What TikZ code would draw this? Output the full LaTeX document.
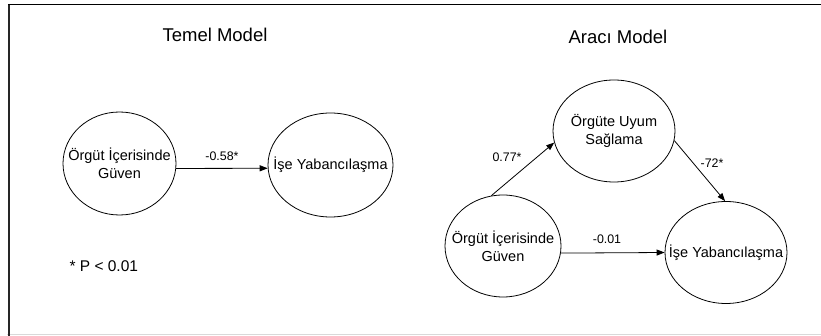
\documentclass[tikz,border=0pt]{standalone}
\usepackage{fontspec}
\setmainfont{Liberation Sans}
\usetikzlibrary{shapes.geometric,arrows.meta}

\begin{document}
\begin{tikzpicture}[x=1pt, y=-1pt,
    degisken/.style={draw, ellipse, line width=0.8pt, inner xsep=-45pt, inner ysep=-15pt,
      align=center, font=\fontsize{14.5}{18}\selectfont},
    baslik/.style={font=\fontsize{18.5}{22}\selectfont, anchor=base},
    katsayi/.style={font=\fontsize{12.4}{15}\selectfont},
    yol/.style={line width=0.8pt, -{Triangle[length=8pt,width=6pt]}}]
    \useasboundingbox (0,0) rectangle (821,336);
    % cerceve
    \draw[black!15, line width=1pt] (7,334) -- (821,334);
    \draw[black!85, line width=2pt] (9,4) -- (9,336);
    \draw[line width=1pt] (8,4.5) -- (821,4.5);
    % temel model
    \node[baslik] (t1) at (215,42) {Temel Model};
    \node[degisken, minimum width=113pt, minimum height=103pt] (g1) at (119.5,163.5) {Örgüt İçerisinde\\Güven};
    \node[degisken, minimum width=125pt, minimum height=104pt] (y1) at (330.5,165) {İşe Yabancılaşma};
    \draw[yol] (g1.-5) -- (y1.183);
    \node[katsayi] (k1) at (222,156) {-0.58*};
    \node[font=\fontsize{15.5}{18}\selectfont, anchor=west] (p) at (66,266.5) {* P < 0.01};
    % araci model
    \node[baslik] (t2) at (618,44) {Aracı Model};
    \node[degisken, minimum width=122pt, minimum height=102pt] (u) at (614,131) {Örgüte Uyum\\Sağlama};
    \node[degisken, minimum width=116pt, minimum height=102pt] (g2) at (503,246) {Örgüt İçerisinde\\Güven};
    \node[degisken, minimum width=122pt, minimum height=102pt] (y2) at (726,252.5) {İşe Yabancılaşma};
    \draw[yol] (g2.103) -- (u.191);
    \draw[yol] (u.-9) -- (y2.91);
    \draw[yol] (g2.-7) -- (y2.180);
    \node[katsayi] (k2) at (507,157) {0.77*};
    \node[katsayi] (k3) at (712,163) {-72*};
    \node[katsayi] (k4) at (607,239) {-0.01};
\end{tikzpicture}
\end{document}
